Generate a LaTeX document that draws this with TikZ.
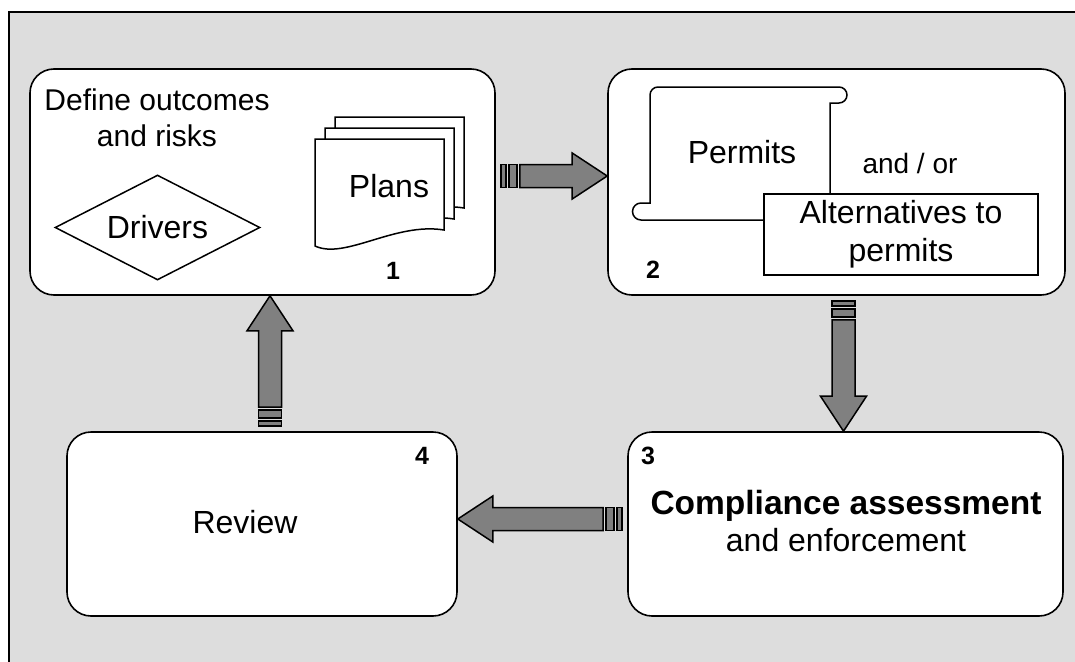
\documentclass[tikz,border=0pt]{standalone}
\usepackage{fontspec}
\setmainfont{Liberation Sans}
\usetikzlibrary{calc,shapes.geometric}

\definecolor{framegray}{RGB}{221,221,221}
\definecolor{arrowgray}{RGB}{128,128,128}

% striped block arrow, tail at #1, tip at #2
\newcommand\stripearrow[2]{%
  \path let \p1=(#1),\p2=(#2) in \pgfextra{%
    \pgfmathsetmacro\arrang{atan2(\y2-\y1,\x2-\x1)}%
    \pgfmathsetmacro\arrlen{veclen(\x2-\x1,\y2-\y1)}%
    \xdef\arrang{\arrang}\xdef\arrlen{\arrlen}};
  \begin{scope}[shift={(#1)},rotate=\arrang]
    \draw[blockarrow] (5,-11.5) rectangle (10,11.5);
    \draw[blockarrow] (13,-11.5) rectangle (21,11.5);
    \draw[blockarrow] (24,-11.5) -- ({\arrlen-35},-11.5) -- ({\arrlen-35},-23)
      -- (\arrlen,0) -- ({\arrlen-35},23) -- ({\arrlen-35},11.5) -- (24,11.5) -- cycle;
  \end{scope}}

\begin{document}
\begin{tikzpicture}[x=1pt,y=-1pt,
 stage/.style={draw,line width=1.6pt,fill=white,rounded corners=24pt,inner sep=0pt},
 lbl/.style={font=\fontsize{32}{37}\selectfont,inner sep=0pt,align=center},
 num/.style={font=\fontsize{25}{28}\selectfont\bfseries,inner sep=0pt},
 blockarrow/.style={draw=black,line width=1.5pt,fill=arrowgray,line join=miter},
 thinline/.style={draw=black,line width=1.5pt}]
 \useasboundingbox (0,0) rectangle (1075,661);
 \clip (0,0) rectangle (1075,661);
 \draw[fill=framegray,line width=1.2pt] (9,12) rectangle (1095,690);

 % the four stages
 \node[stage,minimum width=465pt,minimum height=226pt] (define) at (262.5,182) {};
 \node[stage,minimum width=457pt,minimum height=226pt] (permits) at (836.5,182) {};
 \node[stage,minimum width=435pt,minimum height=184pt] (compliance) at (845.5,524) {};
 \node[stage,minimum width=390pt,minimum height=184pt] (review) at (262,524) {};

 % stage 1
 \node[lbl,font=\fontsize{30}{36}\selectfont] (outcomes) at (157,118) {Define outcomes\\and risks};
 \node[draw,thinline,diamond,aspect=2,inner sep=0pt,minimum width=205pt,minimum height=105pt] (drivers) at (157.5,227.5) {};
 \node[lbl] (drvtxt) at (drivers) {Drivers};
 \foreach \k in {2,1,0}
  \draw[thinline,fill=white,shift={({10*\k},{-11*\k})}]
   (315,139) -- (444,139) -- (444,230) .. controls (395,222) and (345,260) .. (315,246) -- cycle;
 \node[lbl] (plans) at (389,186) {Plans};
 \node[num] (n1) at (393,271) {1};

 % stage 2
 \draw[thinline] (765,220) -- (641,220) arc[start angle=90,end angle=270,radius=8.5]
  -- (650,203) [rounded corners=8pt] -- (650,87) [sharp corners] -- (839,87)
  arc[start angle=-90,end angle=90,radius=8] -- (830,103) -- (830,196);
 \node[lbl] (permtxt) at (742,152) {Permits};
 \node[font=\fontsize{28}{32}\selectfont,inner sep=0pt] (andor) at (910,163) {and / or};
 \node[draw,thinline,fill=white,lbl,font=\fontsize{32}{38}\selectfont,minimum width=274pt,minimum height=81pt] (alt) at (901,234.5) {Alternatives to\\permits};
 \node[num] (n2) at (653,270) {2};

 % stages 3 and 4
 \node[num] (n3) at (648,456) {3};
 \node[lbl] (comptxt) at (846,521) {\fontsize{33.5}{37}\selectfont\textbf{Compliance assessment}\\and enforcement};
 \node[num] (n4) at (422,456) {4};
 \node[lbl] (revtxt) at (245,522) {Review};

 % arrows between the stages
 \coordinate (a12) at ([yshift=6pt]define.east);
 \coordinate (b12) at (a12 -| permits.west);
 \coordinate (a23) at ([xshift=7pt]permits.south);
 \coordinate (b23) at (a23 |- compliance.north);
 \coordinate (a34) at ([yshift=5pt]compliance.west);
 \coordinate (b34) at (a34 -| review.east);
 \coordinate (a41) at ([xshift=8pt]review.north);
 \coordinate (b41) at (a41 |- define.south);
 \stripearrow{a12}{b12}
 \stripearrow{a23}{b23}
 \stripearrow{a34}{b34}
 \stripearrow{a41}{b41}
\end{tikzpicture}
\end{document}
